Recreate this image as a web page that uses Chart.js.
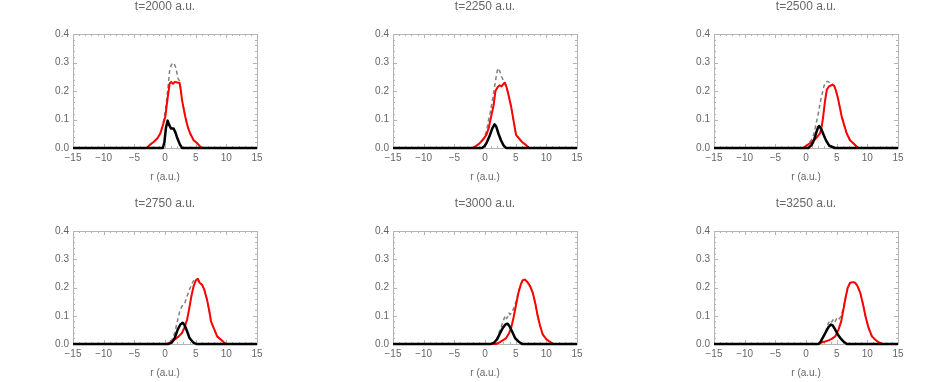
<!DOCTYPE html>
<html>
<head>
<meta charset="UTF-8">
<script src="https://cdn.jsdelivr.net/npm/chart.js@4.4.1/dist/chart.umd.min.js"></script>
<style>
  body { margin: 0; background: #fff; width: 941px; height: 382px; position: relative; overflow: hidden; }
  .panel { position: absolute; }
</style>
</head>
<body>
<div id="wrap"></div>
<script>
// times shown in the panel titles
var times = [2000, 2250, 2500, 2750, 3000, 3250];

// [r, density] points
var black2000 = [[-15,0],[-0.35,0],[-0.1,0.02],[0.15,0.07],[0.43,0.096],[0.7,0.08],[1.0,0.068],[1.4,0.068],[1.7,0.055],[2.0,0.035],[2.4,0.014],[2.77,0],[15,0]];
var red2000 = [[-15,0],[-3,0],[-2.4,0.012],[-1.86,0.021],[-1.2,0.035],[-0.77,0.051],[-0.35,0.08],[0.05,0.11],[0.4,0.17],[0.75,0.226],[1.0,0.232],[1.3,0.225],[1.6,0.232],[2.0,0.23],[2.38,0.228],[2.6,0.2],[2.77,0.169],[3.3,0.11],[3.7,0.075],[4.1,0.051],[4.67,0.027],[5.2,0.018],[5.6,0.008],[6.0,0],[15,0]];
var total2000 = [[-15,0],[-3,0],[-2.4,0.012],[-1.86,0.021],[-1.2,0.035],[-0.77,0.051],[-0.35,0.08],[0.05,0.13],[0.43,0.2],[0.75,0.27],[1.0,0.29],[1.24,0.299],[1.5,0.295],[1.8,0.28],[2.1,0.245],[2.38,0.235],[2.6,0.205],[2.77,0.169],[3.3,0.11],[3.7,0.075],[4.1,0.051],[4.67,0.027],[5.2,0.018],[5.6,0.008],[6.0,0],[15,0]];

var black2250 = [[-15,0],[-0.5,0],[-0.1,0.006],[0.3,0.02],[0.73,0.041],[1.17,0.068],[1.55,0.083],[1.82,0.076],[2.2,0.05],[2.6,0.027],[3.0,0.01],[3.45,0],[15,0]];
var red2250 = [[-15,0],[-2,0],[-1.4,0.008],[-0.9,0.016],[-0.3,0.03],[0.2,0.045],[0.6,0.07],[1.0,0.11],[1.4,0.15],[1.7,0.2],[2.1,0.215],[2.4,0.22],[2.7,0.216],[3.0,0.225],[3.2,0.229],[3.5,0.215],[3.9,0.18],[4.26,0.145],[4.64,0.098],[5.07,0.045],[5.5,0.035],[6.05,0.021],[6.7,0.01],[7.2,0],[15,0]];
var total2250 = [[-15,0],[-2,0],[-1.4,0.008],[-0.9,0.016],[-0.3,0.032],[0.2,0.055],[0.6,0.1],[0.9,0.13],[1.27,0.175],[1.66,0.228],[1.9,0.26],[2.1,0.28],[2.4,0.27],[2.7,0.25],[3.0,0.238],[3.2,0.235],[3.5,0.217],[3.9,0.18],[4.26,0.145],[4.64,0.098],[5.07,0.045],[5.5,0.035],[6.05,0.021],[6.7,0.01],[7.2,0],[15,0]];

var black2500 = [[-15,0],[0.38,0],[0.9,0.01],[1.3,0.027],[1.7,0.056],[2.0,0.074],[2.17,0.077],[2.5,0.066],[2.9,0.045],[3.3,0.025],[3.8,0.008],[4.73,0],[15,0]];
var red2500 = [[-15,0],[-0.5,0],[0.2,0.01],[0.93,0.021],[1.6,0.033],[2.28,0.051],[2.6,0.08],[2.8,0.11],[3.1,0.165],[3.4,0.205],[3.7,0.215],[4.1,0.22],[4.35,0.222],[4.6,0.218],[4.9,0.2],[5.27,0.169],[5.82,0.11],[6.3,0.075],[6.64,0.051],[7.18,0.027],[7.8,0.015],[8.5,0],[15,0]];
var total2500 = [[-15,0],[-0.5,0],[0.2,0.01],[0.93,0.03],[1.3,0.051],[1.7,0.09],[2.0,0.12],[2.4,0.169],[2.94,0.218],[3.2,0.23],[3.47,0.234],[3.8,0.23],[4.1,0.224],[4.35,0.223],[4.6,0.218],[4.9,0.2],[5.27,0.169],[5.82,0.11],[6.3,0.075],[6.64,0.051],[7.18,0.027],[7.8,0.015],[8.5,0],[15,0]];

var black2750 = [[-15,0],[0.6,0],[1.14,0.006],[1.58,0.021],[2.07,0.051],[2.5,0.069],[2.88,0.075],[3.15,0.069],[3.6,0.045],[4.0,0.021],[4.57,0.006],[5.1,0],[15,0]];
var red2750 = [[-15,0],[0.33,0],[1.14,0.009],[1.7,0.018],[2.23,0.027],[2.77,0.039],[3.15,0.057],[3.6,0.086],[3.97,0.128],[4.3,0.169],[4.67,0.205],[5.05,0.226],[5.33,0.231],[5.65,0.217],[6.03,0.21],[6.4,0.193],[6.85,0.157],[7.23,0.116],[7.5,0.08],[7.93,0.057],[8.5,0.027],[9.0,0.018],[9.6,0.006],[10.0,0],[15,0]];
var total2750 = [[-15,0],[0.33,0],[1.14,0.015],[1.58,0.039],[1.96,0.075],[2.4,0.116],[2.77,0.134],[3.15,0.14],[3.6,0.169],[4.0,0.193],[4.4,0.214],[4.78,0.228],[5.05,0.228],[5.33,0.231],[5.65,0.217],[6.03,0.21],[6.4,0.193],[6.85,0.157],[7.23,0.116],[7.5,0.08],[7.93,0.057],[8.5,0.027],[9.0,0.018],[9.6,0.006],[10.0,0],[15,0]];

var black3000 = [[-15,0],[1.0,0],[1.55,0.006],[2.0,0.018],[2.47,0.039],[2.9,0.057],[3.34,0.069],[3.66,0.072],[4.0,0.063],[4.4,0.045],[4.9,0.021],[5.45,0.009],[6.05,0],[15,0]];
var red3000 = [[-15,0],[1.8,0],[2.36,0.006],[2.9,0.013],[3.45,0.021],[3.9,0.037],[4.26,0.057],[4.64,0.092],[5.07,0.14],[5.45,0.181],[5.83,0.21],[6.15,0.226],[6.54,0.228],[6.92,0.219],[7.35,0.205],[7.8,0.181],[8.24,0.14],[8.6,0.098],[9.0,0.063],[9.43,0.033],[9.97,0.018],[10.5,0.009],[11.15,0],[15,0]];
var total3000 = [[-15,0],[1.27,0],[2.0,0.021],[2.47,0.051],[2.9,0.077],[3.2,0.095],[3.34,0.1],[3.5,0.09],[3.72,0.098],[3.9,0.11],[4.1,0.104],[4.4,0.112],[4.7,0.128],[5.07,0.15],[5.45,0.186],[5.83,0.212],[6.15,0.226],[6.54,0.228],[6.92,0.219],[7.35,0.205],[7.8,0.181],[8.24,0.14],[8.6,0.098],[9.0,0.063],[9.43,0.033],[9.97,0.018],[10.5,0.009],[11.15,0],[15,0]];

var black3250 = [[-15,0],[2.04,0],[2.4,0.009],[2.86,0.027],[3.3,0.045],[3.67,0.06],[4.05,0.069],[4.38,0.065],[4.76,0.051],[5.2,0.033],[5.6,0.021],[6.1,0.009],[6.67,0],[15,0]];
var red3250 = [[-15,0],[2.04,0],[2.6,0.006],[3.13,0.009],[3.67,0.013],[4.2,0.018],[4.76,0.027],[5.3,0.051],[5.74,0.08],[6.1,0.122],[6.5,0.169],[6.8,0.199],[7.2,0.217],[7.64,0.219],[8.03,0.217],[8.4,0.205],[8.85,0.181],[9.3,0.14],[9.7,0.098],[10.2,0.057],[10.75,0.027],[11.3,0.015],[11.84,0.006],[12.55,0],[15,0]];
var total3250 = [[-15,0],[2.2,0],[2.86,0.03],[3.3,0.051],[3.67,0.075],[3.95,0.084],[4.2,0.078],[4.5,0.089],[4.76,0.08],[5.04,0.092],[5.3,0.086],[5.6,0.095],[5.74,0.1],[6.1,0.13],[6.5,0.17],[6.8,0.199],[7.2,0.217],[7.64,0.219],[8.03,0.217],[8.4,0.205],[8.85,0.181],[9.3,0.14],[9.7,0.098],[10.2,0.057],[10.75,0.027],[11.3,0.015],[11.84,0.006],[12.55,0],[15,0]];

var blacks = [black2000, black2250, black2500, black2750, black3000, black3250];
var reds = [red2000, red2250, red2500, red2750, red3000, red3250];
var totals = [total2000, total2250, total2500, total2750, total3000, total3250];

var xTicks = [-15, -10, -5, 0, 5, 10, 15];
var yTicks = [0, 0.1, 0.2, 0.3, 0.4];
var xLabel = "r (a.u.)";

// layout of the 3x2 grid (plot-area corners)
var plotLeft = [73, 393, 714];
var plotTop = [34, 231];
var plotW = 184;
var plotH = [114, 113];
var padL = 45, padT = 34, padR = 12, padB = 40;

var textColor = "#666";
var frameColor = "#b4b4b4";
var fontFamily = "'Liberation Sans', Arial, sans-serif";

function toPts(arr) {
  return arr.map(function(p) { return { x: p[0], y: p[1] }; });
}

// frame + inner ticks, title and axis label
var framePlugin = {
  id: "frame",
  beforeDatasetsDraw: function(chart) {
    var a = chart.chartArea, c = chart.ctx;
    var xs = chart.scales.x, ys = chart.scales.y;
    c.save();
    c.strokeStyle = frameColor;
    c.lineWidth = 1;
    c.strokeRect(Math.round(a.left) + 0.5, Math.round(a.top) + 0.5, Math.round(a.right - a.left), Math.round(a.bottom - a.top));
    c.beginPath();
    for (var v = -15; v <= 15; v++) {
      var px = Math.round(xs.getPixelForValue(v)) + 0.5;
      var len = (v % 5 === 0) ? 4 : 2;
      c.moveTo(px, a.bottom); c.lineTo(px, a.bottom - len);
      c.moveTo(px, a.top); c.lineTo(px, a.top + len);
    }
    for (var k = 0; k <= 20; k++) {
      var py = Math.round(ys.getPixelForValue(k * 0.02)) + 0.5;
      var len2 = (k % 5 === 0) ? 4 : 2;
      c.moveTo(a.left, py); c.lineTo(a.left + len2, py);
      c.moveTo(a.right, py); c.lineTo(a.right - len2, py);
    }
    c.stroke();
    c.restore();
  },
  afterDraw: function(chart) {
    var a = chart.chartArea, c = chart.ctx;
    var cx = (a.left + a.right) / 2;
    c.save();
    c.fillStyle = textColor;
    c.textAlign = "center";
    c.textBaseline = "middle";
    c.font = "12px " + fontFamily;
    c.fillText(chart.options.plugins.frame.title, cx, a.top - 27);
    c.font = "10px " + fontFamily;
    c.fillText(xLabel, cx, a.bottom + 29);
    c.restore();
  }
};

var wrap = document.getElementById("wrap");

for (var i = 0; i < times.length; i++) {
  var col = i % 3, row = Math.floor(i / 3);
  var w = padL + plotW + padR, h = padT + plotH[row] + padB;
  var div = document.createElement("div");
  div.className = "panel";
  div.style.left = (plotLeft[col] - padL) + "px";
  div.style.top = (plotTop[row] - padT) + "px";
  div.style.width = w + "px";
  div.style.height = h + "px";
  var cv = document.createElement("canvas");
  cv.width = w; cv.height = h;
  div.appendChild(cv);
  wrap.appendChild(div);

  new Chart(cv.getContext("2d"), {
    type: "line",
    data: {
      datasets: [
        { label: "black", data: toPts(blacks[i]), borderColor: "#000", borderWidth: 2.5 },
        { label: "red", data: toPts(reds[i]), borderColor: "#ff0000", borderWidth: 2 },
        { label: "total", data: toPts(totals[i]), borderColor: "#808080", borderWidth: 1.5, borderDash: [4, 3] }
      ]
    },
    options: {
      responsive: false,
      animation: false,
      events: [],
      layout: { padding: { top: padT, right: padR, left: 0, bottom: 0 } },
      datasets: { line: { pointRadius: 0, tension: 0, clip: false, borderJoinStyle: "round" } },
      plugins: {
        legend: { display: false },
        tooltip: { enabled: false },
        frame: { title: "t=" + times[i] + " a.u." }
      },
      scales: {
        x: {
          type: "linear",
          min: -15, max: 15,
          afterFit: function(s) { s.height = padB; },
          afterBuildTicks: function(s) { s.ticks = xTicks.map(function(v) { return { value: v }; }); },
          grid: { display: false, drawTicks: false },
          border: { display: false },
          ticks: {
            autoSkip: false, maxRotation: 0, padding: 4,
            color: textColor, font: { family: fontFamily, size: 10 },
            callback: function(v) { return v < 0 ? "\u2212" + Math.abs(v) : String(v); }
          }
        },
        y: {
          min: 0, max: 0.4,
          afterFit: function(s) { s.width = padL; },
          afterBuildTicks: function(s) { s.ticks = yTicks.map(function(v) { return { value: v }; }); },
          grid: { display: false, drawTicks: false },
          border: { display: false },
          ticks: {
            padding: 4,
            color: textColor, font: { family: fontFamily, size: 10 },
            callback: function(v) { return Number(v).toFixed(1); }
          }
        }
      }
    },
    plugins: [framePlugin]
  });
}
</script>
</body>
</html>
